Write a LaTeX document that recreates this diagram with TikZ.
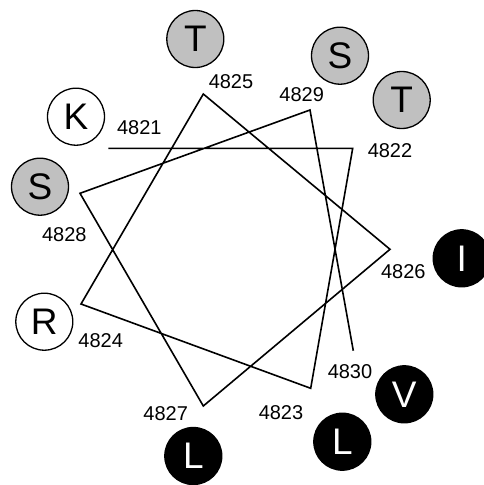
\documentclass[tikz,border=0pt]{standalone}
\usepackage{fontspec}
\setmainfont{Liberation Sans}
\definecolor{resgray}{RGB}{192,192,192}
\begin{document}
\begin{tikzpicture}[x=1pt,y=-1pt,
  res/.style={circle,draw=black,line width=1.3pt,minimum size=57pt,inner sep=0pt,font=\fontsize{37}{37}\selectfont},
  polar/.style={res,fill=white},
  hydrox/.style={res,fill=resgray},
  hydrophob/.style={res,fill=black,text=white},
  num/.style={font=\fontsize{20}{20}\selectfont,inner sep=0pt},
  wheel/.style={line width=1.6pt,line join=miter}]
\useasboundingbox (0,0) rectangle (483,485);
% vertices
\coordinate (v21) at (108.3,148.3);
\coordinate (v22) at (352.7,148.3);
\coordinate (v23) at (310.7,388.3);
\coordinate (v24) at (81,304);
\coordinate (v25) at (203.3,94);
\coordinate (v26) at (390,249.3);
\coordinate (v27) at (203.3,406);
\coordinate (v28) at (80,193.3);
\coordinate (v29) at (310,110);
\coordinate (v30) at (353.3,350.7);
\draw[wheel] (v21) -- (v22) -- (v23) -- (v24) -- (v25) -- (v26) -- (v27) -- (v28) -- (v29) -- (v30);
% residues
\node[hydrox] (rT1) at (195.3,39) {T};
\node[hydrox] (rS1) at (340,55.7) {S};
\node[hydrox] (rT2) at (401.7,100) {T};
\node[polar] (rK) at (76,116.7) {K};
\node[hydrox] (rS2) at (40,186.7) {S};
\node[hydrophob] (rI) at (461.7,258.3) {I};
\node[polar] (rR) at (44.3,321.7) {R};
\node[hydrophob] (rV) at (404.3,394.3) {V};
\node[hydrophob] (rL1) at (342.3,441.7) {L};
\node[hydrophob] (rL2) at (193.3,456) {L};
% labels
\node[num] (n25) at (231,81.7) {4825};
\node[num] (n29) at (301.7,95) {4829};
\node[num] (n21) at (139.3,127.3) {4821};
\node[num] (n22) at (390,150.7) {4822};
\node[num] (n28) at (64.3,235) {4828};
\node[num] (n26) at (403.3,271.7) {4826};
\node[num] (n24) at (100.7,340.7) {4824};
\node[num] (n30) at (350,371.7) {4830};
\node[num] (n27) at (165.7,413.3) {4827};
\node[num] (n23) at (281,412.7) {4823};
\end{tikzpicture}
\end{document}
